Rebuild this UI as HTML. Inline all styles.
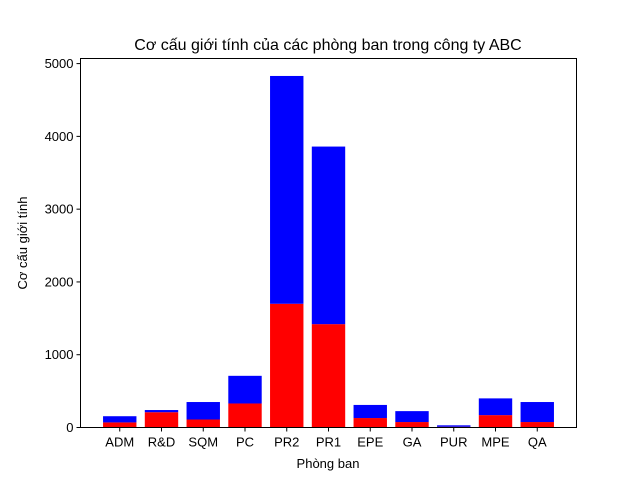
<!DOCTYPE html>
<html><head><meta charset="utf-8"><style>
body{margin:0;background:#fff;}
svg text{font-family:"Liberation Sans","DejaVu Sans",sans-serif;fill:#000;}
</style></head><body>
<svg id="chart" width="640" height="480">
<rect width="640" height="480" fill="#fff"/>
<text x="328" y="50" font-size="16" text-anchor="middle">Cơ cấu giới tính của các phòng ban trong công ty ABC</text>
<g id="bars"></g>
<g id="axes"></g>
<text x="328" y="468" font-size="13" text-anchor="middle">Phòng ban</text>
<text transform="translate(27,243) rotate(-90)" font-size="13" text-anchor="middle">Cơ cấu giới tính</text>
<rect x="80.5" y="58.5" width="496" height="369" fill="none" stroke="#000" stroke-width="1"/>
</svg>
<script>
const categories=["ADM","R&D","SQM","PC","PR2","PR1","EPE","GA","PUR","MPE","QA"];
const femaleValues=[70,210,110,330,1700,1420,130,75,10,170,75];
const maleValues=[85,30,240,380,3130,2440,180,150,20,230,275];
const yTicks=[0,1000,2000,3000,4000,5000];
const L=80.5,R=576.5,T=58.5,B=427.5;
const xmin=-0.94,xmax=categories.length-1+0.94;
const ymax=5070;
function xs(i){return L+(i-xmin)/(xmax-xmin)*(R-L);}
function ys(v){return B-v/ymax*(B-T);}
const ns="http://www.w3.org/2000/svg";
const bars=document.getElementById('bars'),axes=document.getElementById('axes');
const bw=0.8*(R-L)/(xmax-xmin);
categories.forEach((c,i)=>{
  const f=femaleValues[i],m=maleValues[i];
  const r1=document.createElementNS(ns,'rect');
  r1.setAttribute('x',xs(i)-bw/2);r1.setAttribute('width',bw);
  r1.setAttribute('y',ys(f));r1.setAttribute('height',ys(0)-ys(f));r1.setAttribute('fill','#ff0000');
  
  
  bars.appendChild(r1);
  const r2=document.createElementNS(ns,'rect');
  r2.setAttribute('x',xs(i)-bw/2);r2.setAttribute('width',bw);
  r2.setAttribute('y',ys(f+m));r2.setAttribute('height',ys(f)-ys(f+m));r2.setAttribute('fill','#0000ff');
  
  
  bars.appendChild(r2);
  const tk=document.createElementNS(ns,'line');
  tk.setAttribute('x1',xs(i));tk.setAttribute('x2',xs(i));tk.setAttribute('y1',B);tk.setAttribute('y2',B+4);tk.setAttribute('stroke','#000');
  
  
  axes.appendChild(tk);
  const t=document.createElementNS(ns,'text');
  t.setAttribute('x',xs(i));t.setAttribute('y',B+19);t.setAttribute('font-size','13');t.setAttribute('text-anchor','middle');
  t.textContent=c;
  
  
  axes.appendChild(t);
});
yTicks.forEach(v=>{
  const tk=document.createElementNS(ns,'line');
  tk.setAttribute('x1',L-4);tk.setAttribute('x2',L);tk.setAttribute('y1',ys(v));tk.setAttribute('y2',ys(v));tk.setAttribute('stroke','#000');
  
  
  axes.appendChild(tk);
  const t=document.createElementNS(ns,'text');
  t.setAttribute('x',L-7);t.setAttribute('y',ys(v)+4.5);t.setAttribute('font-size','13');t.setAttribute('text-anchor','end');
  t.textContent=v;
  
  
  axes.appendChild(t);
});
</script>
</body></html>
